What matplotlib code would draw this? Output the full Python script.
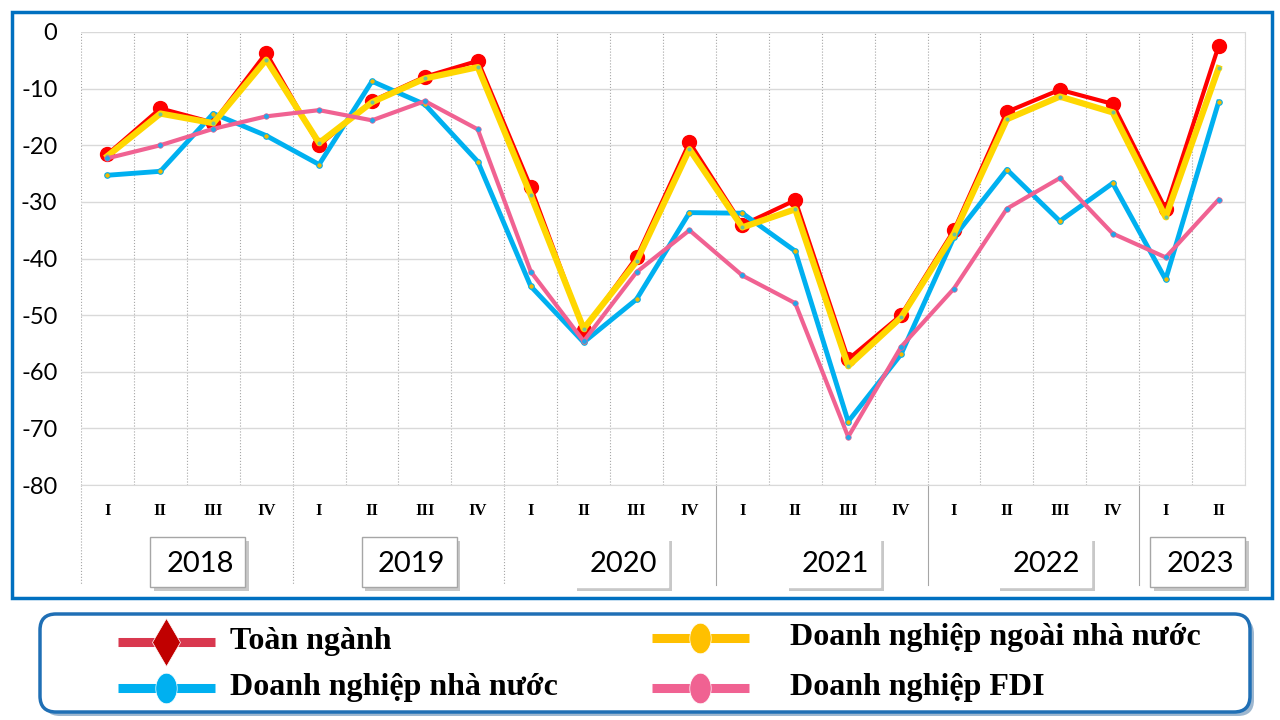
import matplotlib.pyplot as plt
import matplotlib.transforms as mtransforms
from matplotlib.lines import Line2D
from matplotlib.patches import Rectangle, FancyBboxPatch
from matplotlib.path import Path

# ==========================
# Data
# ==========================
years = ["2018", "2019", "2020", "2021", "2022", "2023"]
quarters = ["I", "II", "III", "IV"] * 5 + ["I", "II"]

toan_nganh = [-21.6, -13.5, -16.0, -3.7, -20.0, -12.2, -7.9, -5.1,
              -27.4, -52.7, -39.8, -19.5, -34.1, -29.7, -57.8, -50.0,
              -35.0, -14.1, -10.2, -12.7, -31.3, -2.5]
nha_nuoc = [-25.3, -24.6, -14.4, -18.3, -23.4, -8.7, -12.8, -22.9,
            -44.9, -54.8, -47.2, -31.9, -32.0, -38.7, -68.8, -56.9,
            -36.2, -24.3, -33.4, -26.7, -43.7, -12.4]
ngoai_nha_nuoc = [-21.9, -14.4, -16.1, -4.9, -19.6, -12.4, -8.2, -6.2,
                  -28.8, -52.4, -40.5, -20.7, -34.5, -31.3, -59.0, -50.4,
                  -35.6, -15.4, -11.4, -14.2, -32.7, -6.4]
fdi = [-22.3, -20.0, -17.1, -14.9, -13.8, -15.6, -12.2, -17.2,
       -42.3, -54.6, -42.4, -35.0, -43.0, -47.9, -71.5, -55.6,
       -45.3, -31.2, -25.8, -35.6, -39.8, -29.6]

legend_labels = ["Toàn ngành", "Doanh nghiệp nhà nước",
                 "Doanh nghiệp ngoài nhà nước", "Doanh nghiệp FDI"]

x = list(range(len(quarters)))

# ==========================
# Figure
# ==========================
fig = plt.figure(figsize=(12.8, 7.2), dpi=100)
ax = fig.add_axes([81 / 1280, 1 - 485 / 720, 1164 / 1280, 453 / 720])

ax.plot(x, toan_nganh, color="#FF0000", lw=3, marker="o", ms=10,
        mfc="#FF0000", mec="#FF0000", zorder=3)
ax.plot(x, nha_nuoc, color="#00B0F0", lw=3.5, marker="o", ms=4,
        mfc="#F5B800", mec="#00B0F0", mew=0.8, zorder=4)
ax.plot(x, ngoai_nha_nuoc, color="#FFD700", lw=4.5, marker="o", ms=3.5,
        mfc="#6CC49A", mec="#FFD700", mew=0.5, zorder=5)
ax.plot(x, fdi, color="#F06292", lw=3, marker="o", ms=4,
        mfc="#1FA8E8", mec="#F06292", mew=0.5, zorder=6)

ax.set_xlim(-0.5, len(quarters) - 0.5)
ax.set_ylim(-80, 0)
ax.set_yticks(range(-80, 1, 10))
ax.set_yticklabels([str(v) for v in range(-80, 1, 10)],
                   fontfamily="Lato", fontsize=17)

ax.set_xticks(x)
ax.set_xticklabels(quarters, fontfamily="Liberation Serif",
                   fontweight="bold", fontsize=12)
ax.set_xticks([i - 0.5 for i in range(len(quarters) + 1)], minor=True)
ax.tick_params(axis="x", which="both", length=0, pad=13)
ax.tick_params(axis="y", length=0, pad=17)

ax.grid(axis="y", color="#D9D9D9", lw=1)
ax.grid(axis="x", which="minor", color="#A6A6A6", lw=0.8, ls=":")
ax.grid(axis="x", which="major", visible=False)
ax.set_axisbelow(True)
for side in ["top", "left"]:
    ax.spines[side].set_visible(False)
ax.spines["right"].set_color("#D9D9D9")
ax.spines["bottom"].set_color("#D9D9D9")

# year groups below the axis
trans = mtransforms.blended_transform_factory(ax.transData, ax.transAxes)
bounds = [-0.5, 3.5, 7.5, 11.5, 15.5, 19.5]
for b in bounds:
    ax.add_line(Line2D([b, b], [0, -0.22], transform=trans, color="#A6A6A6",
                       lw=0.8, ls=":" if b < 10 else "-", clip_on=False))

centers = [1.7, 5.7, 9.7, 13.7, 17.7, 20.6]
edges = ["#A6A6A6", "#A6A6A6", "white", "white", "white", "#A6A6A6"]
bw = 95 / 52.9
bh = 50 / 453
for yr, c, ec in zip(years, centers, edges):
    shadow = Rectangle((c - bw / 2 + 0.07, -0.17 - bh / 2 - 0.009), bw, bh,
                       transform=trans, facecolor="#C8C8C8", edgecolor="none",
                       clip_on=False, zorder=2)
    box = Rectangle((c - bw / 2, -0.17 - bh / 2), bw, bh, transform=trans,
                    facecolor="white", edgecolor=ec, lw=1, clip_on=False,
                    zorder=3)
    ax.add_patch(shadow)
    ax.add_patch(box)
    ax.text(c + 0.05, -0.175, yr, transform=trans, ha="center", va="center",
            fontfamily="Lato", fontsize=21, zorder=4)

# outer frame of the chart
fig.add_artist(Rectangle((12 / 1280, 1 - 598 / 720), 1260 / 1280, 586 / 720,
                         transform=fig.transFigure, fill=False,
                         edgecolor="#0070C0", lw=2.5))

# ==========================
# Legend (drawn by hand)
# ==========================
px = mtransforms.IdentityTransform()
fig.add_artist(FancyBboxPatch((44, 4), 1210, 98,
                              boxstyle="round,pad=0,rounding_size=16",
                              transform=px, facecolor="#9DB7D0",
                              edgecolor="none"))
fig.add_artist(FancyBboxPatch((40, 8), 1210, 98,
                              boxstyle="round,pad=0,rounding_size=16",
                              transform=px, facecolor="white",
                              edgecolor="#1F6FB5", lw=2.5))

circ = Path.unit_circle()
ellipse = Path(circ.vertices * [0.7, 1.0], circ.codes)

handles = [
    (118, 78, "#D9384F", "d", "#C00000", 24),
    (118, 32, "#00B0F0", ellipse, "#00B0F0", 22),
    (652, 82, "#FFC000", ellipse, "#FFC000", 22),
    (652, 32, "#F06292", ellipse, "#F06292", 22),
]
text_x = [230, 230, 790, 790]
for (hx, hy, lc, mk, mc, ms), tx, lab in zip(handles, text_x, legend_labels):
    fig.add_artist(Line2D([hx, hx + 97], [hy, hy], transform=px, color=lc,
                          lw=6.5, solid_capstyle="butt"))
    fig.add_artist(Line2D([hx + 48], [hy], transform=px, marker=mk, ms=ms,
                          mfc=mc, mec="white", mew=0.5, ls="none"))
    fig.text(tx, hy, lab, transform=px, va="center", ha="left",
             fontfamily="Liberation Serif", fontweight="bold", fontsize=23)

fig.savefig("out.png", dpi=100)
